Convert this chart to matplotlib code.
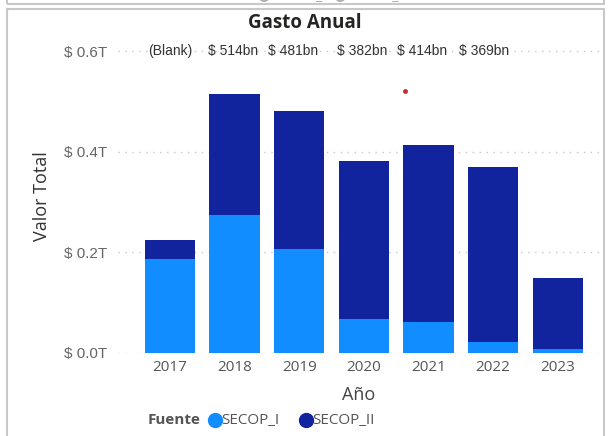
import matplotlib.pyplot as plt
from matplotlib.patches import Rectangle
from matplotlib.lines import Line2D
import numpy as np

# ── Data ──────────────────────────────────────────────────────────────────────
years = ['2017', '2018', '2019', '2020', '2021', '2022', '2023']
total = [0.224, 0.514, 0.481, 0.382, 0.414, 0.369, 0.148]        # in T
secop_i = [0.187, 0.274, 0.206, 0.068, 0.061, 0.021, 0.008]
secop_ii = [t - a for t, a in zip(total, secop_i)]
top_labels = ['(Blank)', '$ 514bn', '$ 481bn', '$ 382bn', '$ 414bn', '$ 369bn']
y_ticks = [0.0, 0.2, 0.4, 0.6]
y_tick_labels = ['$ 0.0T', '$ 0.2T', '$ 0.4T', '$ 0.6T']

C_I = '#118DFF'
C_II = '#12239E'
FONT = ['Open Sans', 'DejaVu Sans']

fig = plt.figure(figsize=(6.09, 4.36), dpi=100)
fig.patch.set_facecolor('white')
ax = fig.add_axes([0.194, 0.191, 0.791, 0.717])

x = np.arange(len(years))
ax.bar(x, secop_i, width=0.775, color=C_I, zorder=3)
ax.bar(x, secop_ii, width=0.775, bottom=secop_i, color=C_II, zorder=3)

ax.set_xlim(-0.8, 6.65)
ax.set_ylim(0, 0.622)
ax.set_yticks(y_ticks)
ax.set_yticklabels(y_tick_labels, family=['Liberation Sans'], fontsize=11, color='#666666')
ax.set_xticks(x)
ax.set_xticklabels(years, family=FONT, fontsize=11, color='#555555')
ax.tick_params(length=0, pad=5)
ax.tick_params(axis='y', pad=8)
for s in ax.spines.values():
    s.set_visible(False)
ax.grid(axis='y', color='#c8c8c8', linestyle=(0, (1, 4)), linewidth=1.0, zorder=0)

ax.set_xlabel('Año', family=FONT, fontsize=13, color='#444444', labelpad=8)
ax.set_ylabel('Valor Total', family=FONT, fontsize=13, color='#333333', labelpad=9)

# total labels row (drifts left of the bars, as in the source)
label_shift = [0.0, -0.03, -0.1, -0.03, -0.1, -0.14]
for i, lab in enumerate(top_labels):
    ax.text(i + label_shift[i], 0.6, lab, ha='center', va='center',
            fontsize=10, family=['Liberation Sans'], color='#333333', zorder=5)

# title
fig.text(0.5, 0.948, 'Gasto Anual', ha='center', va='center', fontsize=13.5,
         fontweight='bold', family=FONT, color='#252423')

# legend
ly = 1 - 420 / 436
fig.text(148 / 609, ly, 'Fuente', ha='left', va='center', fontsize=11,
         fontweight='bold', family=FONT, color='#555555')
fig.add_artist(Line2D([215 / 609], [ly], marker='o', markersize=10, color=C_I,
                      linestyle='none', transform=fig.transFigure))
fig.text(221 / 609, ly, 'SECOP_I', ha='left', va='center', fontsize=11,
         family=FONT, color='#555555')
fig.add_artist(Line2D([306 / 609], [ly], marker='o', markersize=10, color=C_II,
                      linestyle='none', transform=fig.transFigure))
fig.text(312 / 609, ly, 'SECOP_II', ha='left', va='center', fontsize=11,
         family=FONT, color='#555555')

# frames
fig.patches.append(Rectangle((7 / 609, -0.05), 597 / 609, 1 - 9 / 436 + 0.05,
                             transform=fig.transFigure, fill=False,
                             edgecolor='#c8c8c8', linewidth=1.5))
fig.patches.append(Rectangle((7 / 609, 1 - 4 / 436), 597 / 609, 0.1,
                             transform=fig.transFigure, fill=False,
                             edgecolor='#c8c8c8', linewidth=1.5))
fig.text(0.5, 1 + 3 / 436, 'Fuente  ●SECOP_I  ●SECOP_II', ha='center', va='center',
         fontsize=10.5, family=FONT, color='#b0b0b0')

# stray red dot
fig.add_artist(Line2D([405 / 609], [1 - 91 / 436], marker='o', markersize=2.5,
                      color='#c0302a', linestyle='none', transform=fig.transFigure))

fig.savefig('out.png', dpi=100, facecolor='white')
